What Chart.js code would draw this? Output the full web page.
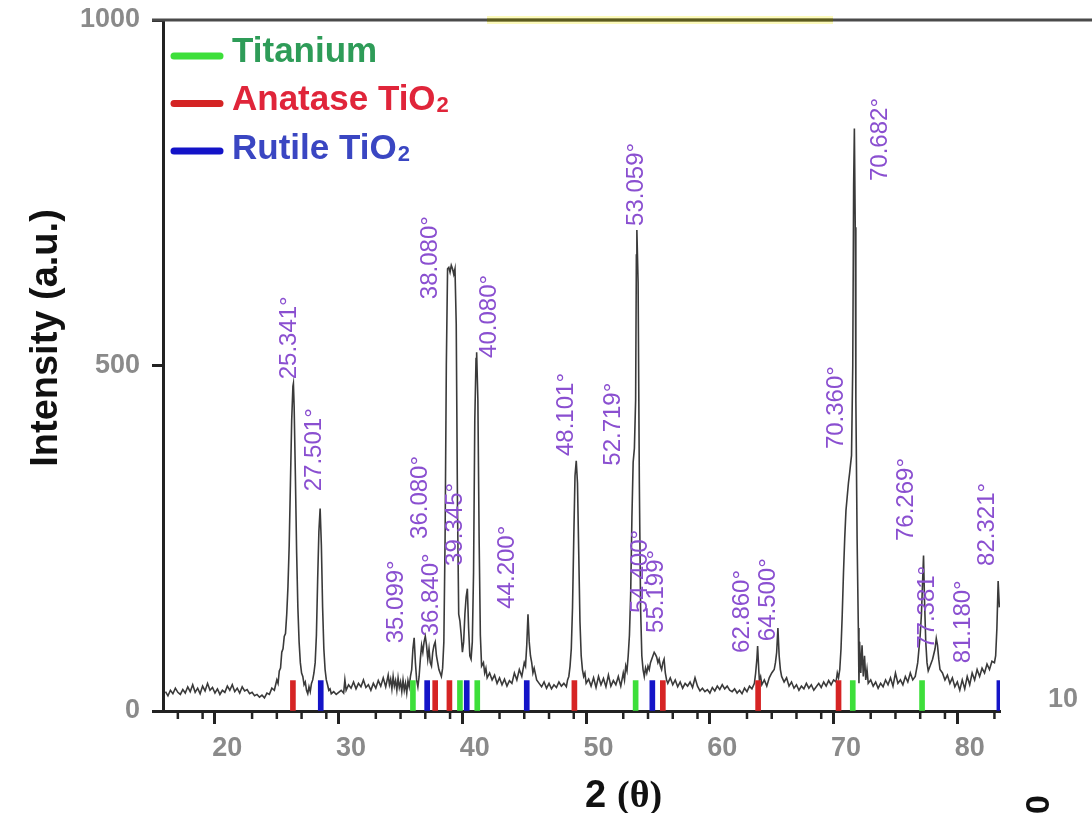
<!DOCTYPE html>
<html>
<head>
<meta charset="utf-8">
<script src="https://cdn.jsdelivr.net/npm/chart.js@4"></script>
<style>
  html, body { margin: 0; padding: 0; background: #fff; }
  canvas { display: block; }
</style>
</head>
<body>
<canvas id="xrdChart" width="1092" height="813"></canvas>
<script>
// XRD pattern
const twoTheta = [
  15.0, 15.2, 15.4, 15.6, 15.8, 16.0, 16.2, 16.4, 16.6, 16.8, 17.0, 17.2, 17.4, 17.6, 17.8, 18.0, 18.2, 18.4, 18.6, 18.8,
  19.0, 19.2, 19.4, 19.6, 19.8, 20.0, 20.2, 20.4, 20.6, 20.8, 21.0, 21.2, 21.4, 21.6, 21.8, 22.0, 22.2, 22.4, 22.6, 22.8,
  23.0, 23.2, 23.4, 23.6, 23.8, 24.0, 24.1, 24.2, 24.3, 24.4, 24.5, 24.6, 24.7, 24.8, 24.9, 25.0, 25.1, 25.2, 25.3, 25.34,
  25.4, 25.5, 25.6, 25.7, 25.8, 25.9, 26.0, 26.1, 26.2, 26.3, 26.4, 26.5, 26.6, 26.7, 26.8, 26.9, 27.0, 27.1, 27.2, 27.3,
  27.4, 27.5, 27.6, 27.7, 27.8, 27.9, 28.0, 28.1, 28.2, 28.3, 28.4, 28.6, 28.8, 29.0, 29.2, 29.4, 29.5, 29.6, 29.8, 30.0,
  30.2, 30.4, 30.6, 30.8, 31.0, 31.2, 31.4, 31.6, 31.8, 32.0, 32.2, 32.4, 32.6, 32.8, 33.0, 33.1, 33.2, 33.3, 33.4, 33.5,
  33.6, 33.7, 33.8, 33.9, 34.0, 34.1, 34.2, 34.3, 34.4, 34.5, 34.6, 34.7, 34.8, 34.9, 35.0, 35.1, 35.2, 35.3, 35.4, 35.5,
  35.6, 35.7, 35.8, 35.9, 36.0, 36.1, 36.2, 36.3, 36.4, 36.5, 36.6, 36.7, 36.8, 36.9, 37.0, 37.1, 37.2, 37.3, 37.4, 37.5,
  37.6, 37.7, 37.8, 37.9, 38.0, 38.1, 38.2, 38.3, 38.4, 38.5, 38.6, 38.7, 38.8, 38.9, 39.0, 39.1, 39.2, 39.3, 39.4, 39.5,
  39.6, 39.7, 39.8, 39.9, 40.0, 40.1, 40.15, 40.25, 40.35, 40.45, 40.55, 40.7, 40.8, 40.9, 41.0, 41.2, 41.4, 41.6, 41.8, 42.0,
  42.2, 42.4, 42.6, 42.8, 43.0, 43.2, 43.4, 43.6, 43.8, 44.0, 44.1, 44.2, 44.3, 44.4, 44.5, 44.6, 44.7, 44.8, 45.0, 45.2,
  45.4, 45.6, 45.8, 46.0, 46.2, 46.4, 46.6, 46.8, 47.0, 47.2, 47.4, 47.5, 47.6, 47.7, 47.8, 47.9, 48.0, 48.1, 48.2, 48.3,
  48.4, 48.5, 48.6, 48.7, 48.8, 48.9, 49.0, 49.2, 49.4, 49.6, 49.8, 50.0, 50.2, 50.4, 50.6, 50.8, 51.0, 51.2, 51.4, 51.6,
  51.8, 52.0, 52.1, 52.2, 52.3, 52.4, 52.5, 52.6, 52.7, 52.8, 52.9, 53.0, 53.06, 53.1, 53.2, 53.3, 53.4, 53.5, 53.6, 53.7,
  53.8, 53.9, 54.0, 54.1, 54.2, 54.3, 54.4, 54.5, 54.6, 54.7, 54.8, 54.9, 55.0, 55.1, 55.2, 55.3, 55.4, 55.5, 55.6, 55.8,
  56.0, 56.2, 56.4, 56.6, 56.8, 57.0, 57.2, 57.4, 57.6, 57.8, 58.0, 58.2, 58.4, 58.6, 58.8, 59.0, 59.2, 59.4, 59.6, 59.8,
  60.0, 60.2, 60.4, 60.6, 60.8, 61.0, 61.2, 61.4, 61.6, 61.8, 62.0, 62.2, 62.4, 62.6, 62.7, 62.8, 62.86, 62.95, 63.0, 63.1,
  63.2, 63.4, 63.6, 63.8, 64.0, 64.2, 64.3, 64.4, 64.5, 64.6, 64.7, 64.8, 65.0, 65.2, 65.4, 65.6, 65.8, 66.0, 66.2, 66.4,
  66.6, 66.8, 67.0, 67.2, 67.4, 67.6, 67.8, 68.0, 68.2, 68.4, 68.6, 68.8, 69.0, 69.2, 69.3, 69.4, 69.5, 69.6, 69.7, 69.8,
  69.9, 70.0, 70.1, 70.2, 70.3, 70.36, 70.45, 70.55, 70.62, 70.68, 70.75, 70.8, 70.9, 71.0, 71.05, 71.1, 71.2, 71.3, 71.4, 71.5,
  71.6, 71.7, 71.8, 72.0, 72.2, 72.4, 72.6, 72.8, 73.0, 73.2, 73.4, 73.6, 73.8, 74.0, 74.2, 74.4, 74.6, 74.8, 75.0, 75.2,
  75.4, 75.6, 75.8, 75.9, 76.0, 76.1, 76.2, 76.27, 76.35, 76.45, 76.55, 76.65, 76.8, 77.0, 77.2, 77.3, 77.4, 77.5, 77.6, 77.8,
  78.0, 78.2, 78.4, 78.6, 78.8, 79.0, 79.2, 79.4, 79.6, 79.8, 80.0, 80.2, 80.4, 80.6, 80.8, 81.0, 81.2, 81.4, 81.6, 81.8,
  82.0, 82.1, 82.2, 82.3, 82.4
];
const intensity = [
  28, 22, 30, 25, 33, 27, 24, 31, 26, 35, 28, 38, 27, 33, 25, 36, 29, 40, 30, 34,
  26, 32, 24, 30, 27, 36, 30, 38, 28, 33, 26, 35, 29, 31, 25, 27, 22, 24, 20, 23,
  19, 26, 24, 33, 30, 45, 40, 58, 62, 85, 90, 108, 112, 140, 180, 240, 330, 420, 470, 474,
  440, 340, 230, 150, 100, 70, 55, 50, 38, 42, 30, 25, 35, 28, 40, 45, 55, 70, 110, 190,
  260, 293, 240, 150, 90, 60, 45, 38, 30, 32, 25, 28, 24, 27, 30, 26, 45, 30, 38, 33,
  42, 32, 40, 35, 45, 34, 38, 30, 40, 33, 44, 36, 48, 35, 52, 38, 46, 32, 50, 36,
  44, 30, 48, 34, 42, 28, 45, 30, 40, 26, 44, 35, 50, 60, 90, 106, 70, 45, 35, 50,
  75, 95, 85, 100, 108, 95, 75, 90, 70, 65, 85, 95, 100, 80, 70, 60, 55, 50, 62, 100,
  250, 500, 640, 642, 635, 645, 640, 632, 640, 560, 300, 140, 130, 110, 85, 100, 140, 165, 177, 120,
  80, 75, 100, 200, 420, 510, 519, 450, 250, 110, 65, 70, 55, 62, 48, 55, 45, 52, 40, 48,
  38, 46, 36, 44, 40, 55, 45, 60, 50, 70, 65, 95, 140, 100, 80, 70, 55, 62, 45, 40,
  35, 42, 33, 40, 32, 38, 34, 42, 36, 40, 35, 45, 50, 65, 90, 150, 250, 340, 362, 330,
  230, 130, 80, 60, 50, 55, 40, 46, 36, 48, 34, 50, 38, 47, 35, 52, 36, 44, 38, 50,
  36, 55, 45, 65, 58, 80, 110, 170, 280, 360, 380, 450, 660, 696, 620, 330, 150, 80, 60, 50,
  62, 55, 65, 60, 70, 75, 80, 85, 82, 78, 70, 75, 65, 60, 70, 75, 55, 45, 40, 48,
  38, 45, 35, 42, 33, 40, 36, 42, 34, 48, 36, 29, 33, 28, 31, 26, 34, 29, 36, 31,
  38, 32, 36, 30, 28, 32, 26, 30, 25, 33, 28, 36, 32, 40, 55, 75, 94, 60, 45, 50,
  38, 45, 36, 48, 55, 60, 70, 85, 120, 80, 60, 50, 42, 48, 36, 42, 33, 38, 30, 36,
  32, 40, 33, 38, 30, 35, 40, 34, 42, 36, 44, 38, 45, 42, 55, 48, 60, 90, 140, 200,
  250, 290, 310, 330, 345, 355, 370, 500, 760, 843, 700, 450, 250, 120, 40, 100, 55, 95, 50, 80,
  45, 60, 40, 45, 36, 42, 33, 40, 35, 45, 38, 48, 36, 55, 40, 45, 38, 50, 42, 55,
  45, 50, 70, 90, 110, 140, 190, 225, 160, 100, 70, 58, 65, 75, 90, 105, 95, 75, 60, 55,
  45, 52, 40, 48, 35, 42, 30, 45, 32, 50, 38, 55, 45, 60, 50, 62, 55, 68, 60, 72,
  70, 80, 120, 188, 150
];

// reference phase markers (2θ)
const titaniumPeaks = [35.0, 38.8, 40.2, 53.0, 70.55, 76.15];
const anatasePeaks = [25.3, 36.8, 37.95, 48.05, 55.2, 62.9, 69.4];
const rutilePeaks = [27.55, 36.15, 39.35, 44.2, 54.35, 82.4];
const markerIntensity = 44;

// peak annotations: text, anchored at (2θ, intensity) where the rotated text starts
const peakLabels = ['25.341°', '27.501°', '35.099°', '36.080°', '36.840°', '38.080°', '39.345°', '40.080°', '44.200°', '48.101°', '52.719°',
  '53.059°', '54.400°', '55.199°', '62.860°', '64.500°', '70.360°', '70.682°', '76.269°', '77.381°', '81.180°', '82.321°'];
const labelAt2Theta = [25.01, 27.03, 33.65, 35.59, 36.48, 36.40, 38.42, 41.16, 42.62, 47.38, 51.18,
  53.04, 53.36, 54.65, 61.60, 63.70, 69.19, 72.75, 74.85, 76.62, 79.45, 81.39];
const labelAtIntensity = [480, 318, 98, 249, 108, 596, 210, 511, 148, 369, 355,
  702, 142, 113, 84, 101, 379, 767, 246, 90, 69, 210];

const legendItems = [
  { text: 'Titanium', sub: '', line: '#3ddf3a', color: '#2e9c58' },
  { text: 'Anatase TiO', sub: '2', line: '#d42424', color: '#e0253a' },
  { text: 'Rutile TiO', sub: '2', line: '#1313c8', color: '#3a46c2' }
];

const SANS = '"Liberation Sans", Arial, sans-serif';

function markerDataset(peaks, color) {
  return {
    type: 'bar',
    data: peaks.map(t => ({ x: t, y: markerIntensity })),
    backgroundColor: color,
    barThickness: 5,
    grouped: false,
    order: 0
  };
}

const decorPlugin = {
  id: 'decor',
  afterDraw(chart) {
    const ctx = chart.ctx;
    const xs = chart.scales.x;
    const ys = chart.scales.y;
    const area = chart.chartArea;

    ctx.save();
    // minor x ticks
    ctx.strokeStyle = '#222';
    ctx.lineWidth = 2.5;
    xs.ticks.forEach(t => {
      if (t.value % 10 === 0) return;
      const px = xs.getPixelForValue(t.value);
      ctx.beginPath();
      ctx.moveTo(px, area.bottom);
      ctx.lineTo(px, area.bottom + 8);
      ctx.stroke();
    });

    // top frame line, with the yellowish stretch
    const top = ys.getPixelForValue(1000);
    ctx.lineWidth = 3;
    ctx.strokeStyle = '#4a4a4a';
    ctx.beginPath();
    ctx.moveTo(area.left - 11, top);
    ctx.lineTo(chart.width, top);
    ctx.stroke();
    ctx.strokeStyle = 'rgba(250, 245, 120, 0.5)';
    ctx.lineWidth = 8;
    ctx.beginPath();
    ctx.moveTo(487, top);
    ctx.lineTo(833, top);
    ctx.stroke();
    ctx.strokeStyle = '#5c5a1e';
    ctx.lineWidth = 3;
    ctx.beginPath();
    ctx.moveTo(487, top);
    ctx.lineTo(833, top);
    ctx.stroke();

    // peak labels
    ctx.fillStyle = '#8a4fd0';
    ctx.font = '24px ' + SANS;
    ctx.textAlign = 'left';
    ctx.textBaseline = 'middle';
    peakLabels.forEach((txt, i) => {
      const px = xs.getPixelForValue(labelAt2Theta[i]);
      const py = ys.getPixelForValue(labelAtIntensity[i]);
      ctx.save();
      ctx.translate(px, py);
      ctx.rotate(-Math.PI / 2);
      ctx.fillText(txt, 0, 0);
      ctx.restore();
    });

    // legend
    ctx.lineCap = 'round';
    ctx.textBaseline = 'alphabetic';
    legendItems.forEach((item, i) => {
      const ly = 56 + i * 47.5;
      ctx.strokeStyle = item.line;
      ctx.lineWidth = 7;
      ctx.beginPath();
      ctx.moveTo(174, ly);
      ctx.lineTo(220, ly);
      ctx.stroke();
      ctx.fillStyle = item.color;
      ctx.font = 'bold 35px ' + SANS;
      ctx.fillText(item.text, 232, ly + 6 + (i === 2 ? 2 : 0));
      if (item.sub) {
        const w = ctx.measureText(item.text).width;
        ctx.font = 'bold 22px ' + SANS;
        ctx.fillText(item.sub, 232 + w + 1, ly + 8 + (i === 2 ? 2 : 0));
      }
    });

    // axis titles
    ctx.fillStyle = '#111';
    ctx.font = 'bold 38px ' + SANS;
    ctx.textAlign = 'center';
    ctx.save();
    ctx.translate(57, 338);
    ctx.rotate(-Math.PI / 2);
    ctx.fillText('Intensity (a.u.)', 0, 0);
    ctx.restore();

    ctx.textAlign = 'left';
    ctx.font = 'bold 38px ' + SANS;
    ctx.fillText('2', 585, 807);
    ctx.font = 'bold 38px "Liberation Serif", serif';
    ctx.fillText('(θ)', 617, 807);

    // stray pieces at the right edge
    ctx.fillStyle = '#8a8a8a';
    ctx.font = 'bold 27px ' + SANS;
    ctx.fillText('10', 1048, 707);
    ctx.fillStyle = '#111';
    ctx.font = 'bold 34px ' + SANS;
    ctx.save();
    ctx.translate(1049, 814);
    ctx.rotate(-Math.PI / 2);
    ctx.fillText('0', 0, 0);
    ctx.restore();
    ctx.restore();
  }
};

function init() {
  const ctx = document.getElementById('xrdChart').getContext('2d');
  new Chart(ctx, {
    type: 'line',
    data: {
      datasets: [
        {
          data: twoTheta.map((t, i) => ({ x: t, y: intensity[i] })),
          borderColor: '#3a3a3a',
          borderWidth: 1.6,
          pointRadius: 0,
          tension: 0,
          order: 2
        },
        markerDataset(titaniumPeaks, '#3ddf3a'),
        markerDataset(anatasePeaks, '#d62424'),
        markerDataset(rutilePeaks, '#1414c8')
      ]
    },
    options: {
      responsive: false,
      animation: false,
      layout: { padding: { top: 20, right: 92, left: 0, bottom: 0 } },
      plugins: { legend: { display: false }, tooltip: { enabled: false } },
      scales: {
        x: {
          type: 'linear',
          min: 14.8,
          max: 82.45,
          offset: false,
          afterFit: s => { s.height = 102; s.paddingLeft = 0; s.paddingRight = 0; },
          ticks: {
            stepSize: 2,
            includeBounds: false,
            autoSkip: false,
            maxRotation: 0,
            padding: 8,
            color: '#8a8a8a',
            font: { family: SANS, size: 27, weight: 'bold' },
            callback: v => (v % 10 === 0 ? String(v) : '')
          },
          grid: {
            drawOnChartArea: false,
            tickLength: 13,
            tickWidth: 3,
            tickColor: c => (c.tick && c.tick.value % 10 === 0 ? '#222' : 'rgba(0,0,0,0)')
          },
          border: { color: '#222', width: 3 }
        },
        y: {
          min: 0,
          max: 1000,
          afterFit: s => { s.width = 163; s.paddingTop = 0; s.paddingBottom = 0; },
          ticks: {
            stepSize: 500,
            padding: 12,
            color: '#8a8a8a',
            font: { family: SANS, size: 27, weight: 'bold' },
            callback: v => String(v)
          },
          grid: {
            drawOnChartArea: false,
            tickLength: 11,
            tickWidth: 3,
            tickColor: '#222'
          },
          border: { color: '#222', width: 3 }
        }
      }
    },
    plugins: [decorPlugin]
  });
}

init();
</script>
</body>
</html>
